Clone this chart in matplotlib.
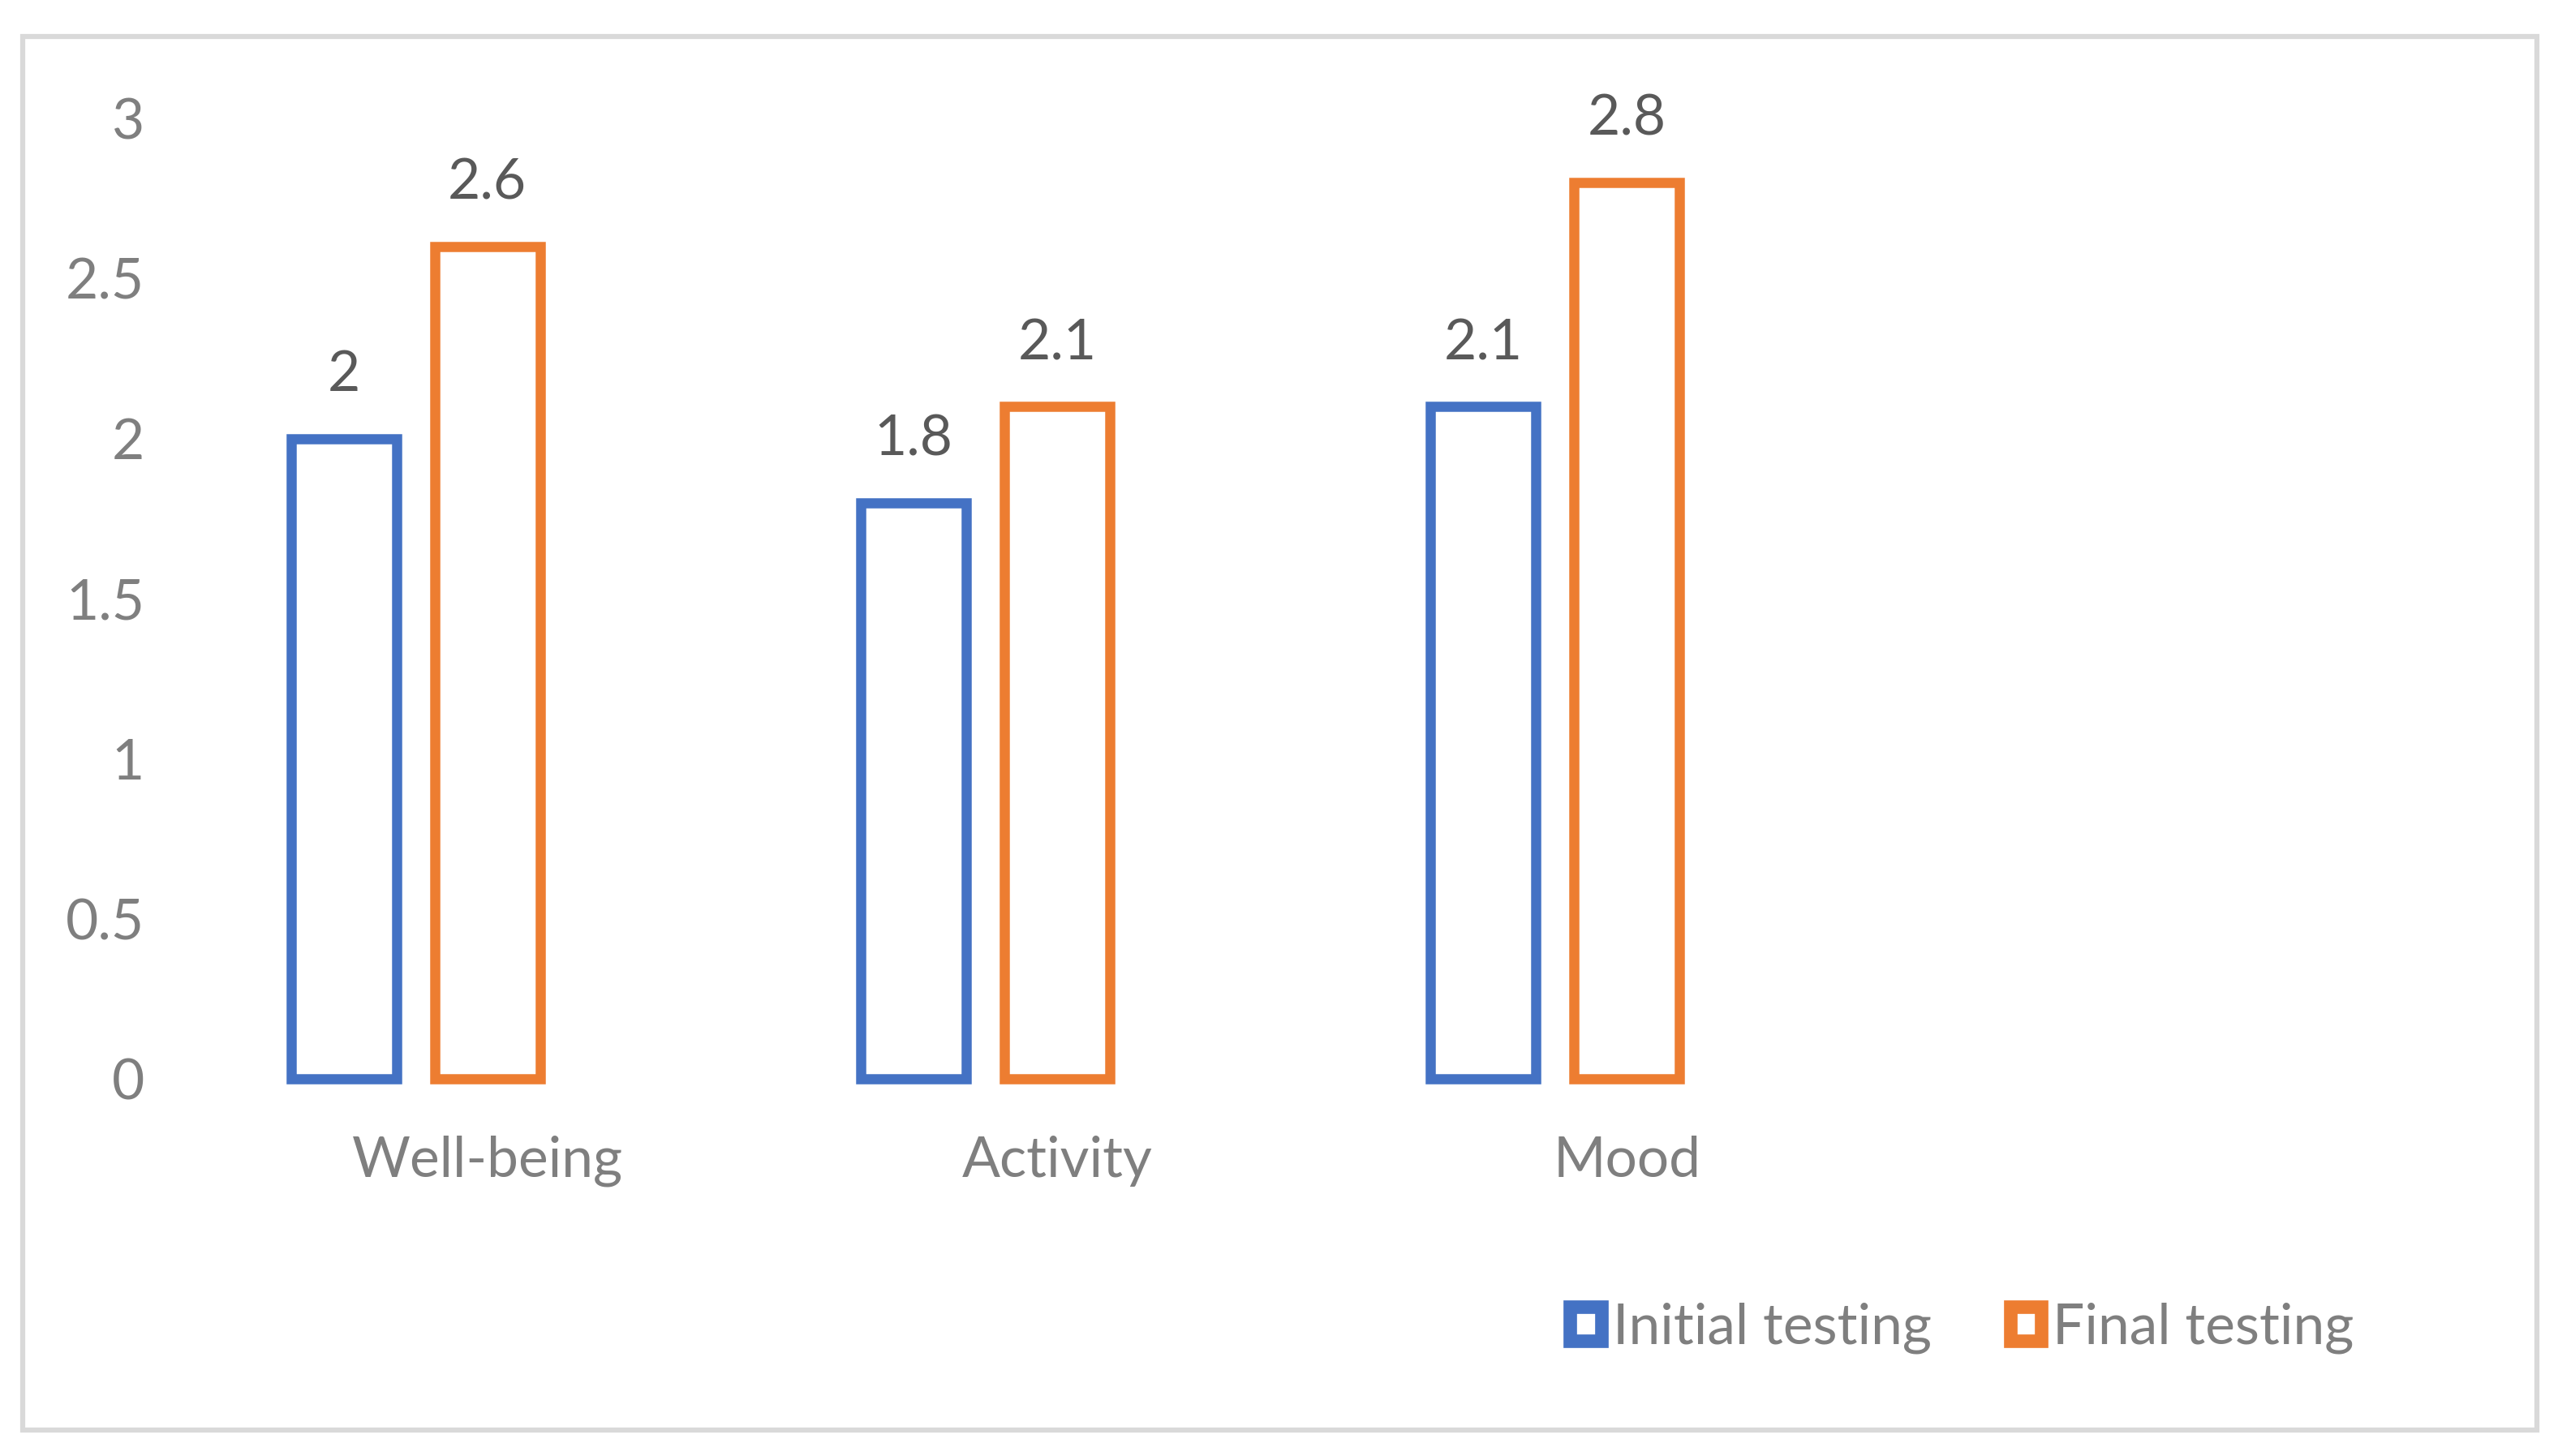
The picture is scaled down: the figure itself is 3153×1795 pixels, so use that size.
import numpy as np
import matplotlib
matplotlib.use("Agg")
import matplotlib.pyplot as plt
from matplotlib.patches import Rectangle, Patch

# data
categories = ["Well-being", "Activity", "Mood"]
initial_testing = [2.0, 1.8, 2.1]
final_testing = [2.6, 2.1, 2.8]
y_ticks = [0, 0.5, 1, 1.5, 2, 2.5, 3]
y_tick_labels = ["0", "0.5", "1", "1.5", "2", "2.5", "3"]

BLUE = "#4472C4"
ORANGE = "#ED7D31"
AXIS_GREY = "#7F7F7F"
LABEL_GREY = "#595959"

plt.rcParams["font.family"] = ["Lato", "DejaVu Sans"]

fig = plt.figure(figsize=(31.53, 17.95), dpi=100)
ax = fig.add_axes([0.0644, 0.259, 0.8777, 0.6596])

x = np.arange(len(categories))
width = 0.185
offset = 0.126
lw = 9

bars1 = ax.bar(x - offset, initial_testing, width, facecolor="none", edgecolor=BLUE,
               linewidth=lw, label="Initial testing", clip_on=False)
bars2 = ax.bar(x + offset, final_testing, width, facecolor="none", edgecolor=ORANGE,
               linewidth=lw, label="Final testing", clip_on=False)

# value labels above the bars
for bars, vals in [(bars1, initial_testing), (bars2, final_testing)]:
    for b, v in zip(bars, vals):
        ax.annotate(f"{v:g}", (b.get_x() + b.get_width() / 2, v), xytext=(0, 56),
                    textcoords="offset points", ha="center", va="center",
                    fontsize=50, color=LABEL_GREY)

ax.set_xlim(-0.44, 3.5)
ax.set_ylim(0, 3)
# category labels sit under the orange bars in the original
ax.set_xticks(x + offset)
ax.set_xticklabels(categories)
ax.set_yticks(y_ticks)
ax.set_yticklabels(y_tick_labels)
ax.tick_params(axis="both", length=0, labelsize=50, labelcolor=AXIS_GREY)
ax.tick_params(axis="x", pad=50)
ax.tick_params(axis="y", pad=18)
for s in ax.spines.values():
    s.set_visible(False)

handles = [Patch(facecolor="white", edgecolor=BLUE, linewidth=12),
           Patch(facecolor="white", edgecolor=ORANGE, linewidth=12)]
leg = fig.legend(handles, ["Initial testing", "Final testing"], loc="center",
                 bbox_to_anchor=(0.767, 0.088), ncol=2, frameon=False, fontsize=50,
                 handlelength=0.55, handleheight=0.55, handletextpad=0.2,
                 columnspacing=1.4, labelcolor=AXIS_GREY)

# light grey chart border
fig.patches.append(Rectangle((0.009, 0.018), 0.9827, 0.957, transform=fig.transFigure,
                             fill=False, edgecolor="#D9D9D9", linewidth=4.5))

fig.savefig("out.png", dpi=100)
